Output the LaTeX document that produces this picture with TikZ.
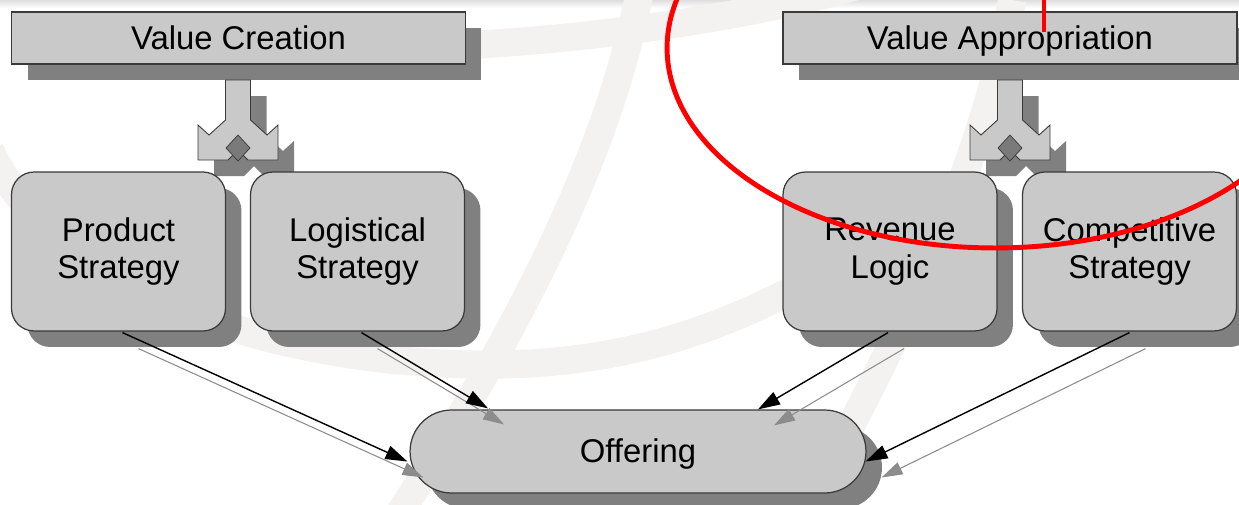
\documentclass[tikz,border=0pt]{standalone}
\usepackage{fontspec}
\setmainfont{Liberation Sans}
\usetikzlibrary{arrows.meta,shadows}
\definecolor{boxfill}{HTML}{C9C9C9}
\definecolor{shad}{HTML}{808080}
\definecolor{edge}{HTML}{3A3A3A}
\definecolor{wm}{HTML}{F3F2F0}
\definecolor{dia}{HTML}{7A7A7A}
\definecolor{garrow}{HTML}{8C8C8C}
\definecolor{annot}{HTML}{FF0000}
\begin{document}
\begin{tikzpicture}[x=0.02cm,y=-0.02cm,
  sh/.style={general shadow={shadow xshift=0.32cm,shadow yshift=-0.32cm,fill=shad}},
  txt/.style={font=\fontsize{18.7}{21.5}\selectfont,text=black,align=center},
  topbox/.style={txt,draw=edge,line width=0.7pt,fill=boxfill,minimum width=9.08cm,minimum height=1.04cm,inner sep=0pt,text height=16.9pt,text depth=4pt,sh},
  stratbox/.style={txt,draw=edge,line width=0.7pt,fill=boxfill,minimum width=4.28cm,minimum height=3.18cm,inner sep=0pt,rounded corners=0.45cm,sh},
  offbox/.style={txt,draw=edge,line width=0.7pt,fill=boxfill,minimum width=9.12cm,minimum height=1.66cm,inner sep=0pt,rounded corners=0.83cm,text height=16.9pt,text depth=4pt,sh},
  forkbody/.style={draw=edge,line width=0.5pt,fill=boxfill},
  forkshad/.style={fill=shad},
  diamondmark/.style={draw=edge,line width=0.4pt,fill=dia},
  barr/.style={draw=black,line width=0.8pt,-{Triangle[length=0.44cm,width=0.28cm]}},
  garr/.style={draw=garrow,line width=0.6pt,-{Triangle[length=0.42cm,width=0.26cm]}},
  wmline/.style={draw=wm,line width=0.56cm},
  redmark/.style={draw=annot,line width=2.8pt}
]
\useasboundingbox (0,0) rectangle (1239,504);
\clip (0,0) rectangle (1239,504);
\fill[white] (0,0) rectangle (1239,504);
\shade[top color=gray!25,bottom color=white] (0,0) rectangle (1239,8);

% watermark
\draw[wmline] (470,45) .. controls (600,38) and (760,15) .. (860,-15);
\draw[wmline] (-10,150) .. controls (60,300) and (300,372) .. (520,364) .. controls (650,358) and (740,320) .. (830,270);
\draw[wmline] (640,-10) .. controls (610,150) and (520,330) .. (395,520);
\draw[wmline] (1012,0) .. controls (985,160) and (900,340) .. (800,520);

% top boxes
\node[topbox] (vc) at (238.5,38) {Value Creation};
\node[topbox] (va) at (1010,38) {Value Appropriation};

% forks
\def\forkpath{(-12.5,80) -- (12.5,80) -- (12.5,120) -- (29,135) -- (40,125) -- (40,160) -- (10,160) -- (0,150) -- (-10,160) -- (-40,160) -- (-40,125) -- (-29,135) -- (-12.5,120) -- cycle}
\def\diapath{(0,135) -- (12,148) -- (0,161) -- (-12,148) -- cycle}
\foreach \cx in {238,1010}{
  \begin{scope}[shift={(\cx+16,16)}]
    \fill[forkshad] \forkpath;
  \end{scope}
}

% strategy boxes
\node[stratbox] (ps) at (118.5,251.5) {Product\\Strategy};
\node[stratbox] (ls) at (357.5,251.5) {Logistical\\Strategy};
\node[stratbox] (rl) at (890,251.5) {Revenue\\Logic};
\node[stratbox] (cs) at (1129.5,251.5) {Competitive\\Strategy};

\foreach \cx in {238,1010}{
  \begin{scope}[shift={(\cx,0)}]
    \path[forkbody] \forkpath;
    \path[diamondmark] \diapath;
  \end{scope}
}

% offering
\node[offbox] (off) at (638,451.5) {Offering};

% connectors
\coordinate (a1) at ([shift={(4,1)}]ps.south);
\coordinate (b1) at ([shift={(-2,10)}]off.west);
\coordinate (a2) at ([shift={(4,1)}]ls.south);
\coordinate (b2) at ([shift={(-150,-1)}]off.north);
\coordinate (a3) at ([shift={(-2,1)}]rl.south);
\coordinate (b3) at ([shift={(120,0)}]off.north);
\coordinate (a4) at ([shift={(0,1)}]cs.south);
\coordinate (b4) at ([shift={(-1,10)}]off.east);
\foreach \s/\t in {a1/b1,a2/b2,a3/b3,a4/b4}{
  \draw[garr] ([shift={(16,16)}]\s) -- ([shift={(16,16)}]\t);
}
\foreach \s/\t in {a1/b1,a2/b2,a3/b3,a4/b4}{
  \draw[barr] (\s) -- (\t);
}

% red annotation
\draw[redmark] (995,48) ellipse [x radius=6.56cm, y radius=4cm];
\coordinate (redtop) at (1044,0);
\coordinate (redbot) at (1044,32);
\draw[annot,line width=2.2pt] (redtop) -- (redbot);
\end{tikzpicture}
\end{document}
